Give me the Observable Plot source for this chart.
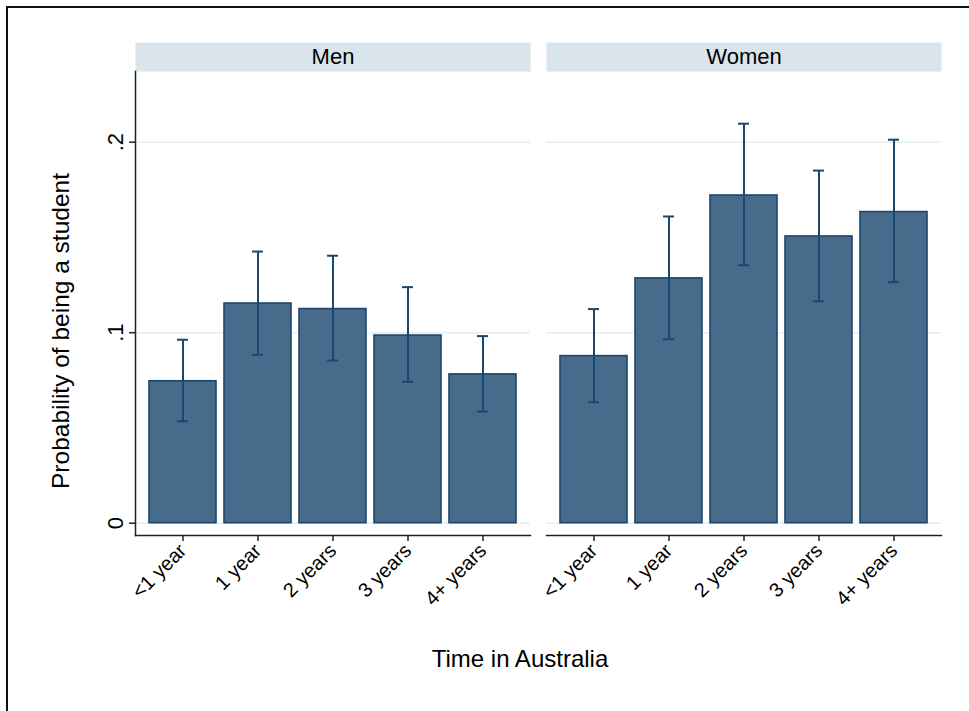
<!DOCTYPE html>
<html>
<head>
<meta charset="utf-8">
<script src="https://cdn.jsdelivr.net/npm/d3@7"></script>
<script src="https://cdn.jsdelivr.net/npm/@observablehq/plot@0.6"></script>
<style>
  html, body { margin: 0; padding: 0; background: #fff; }
  #wrap { position: relative; width: 969px; height: 711px; overflow: hidden; font-family: "Liberation Sans", Arial, sans-serif; }
  #border { position: absolute; left: 6px; top: 6px; width: 2000px; height: 2000px; border-left: 2px solid #111; border-top: 2px solid #111; }
  #chart { position: absolute; left: 0; top: 0; }
  .title { position: absolute; color: #000; white-space: nowrap; text-align: center; }
  #xtitle { left: 320px; width: 400px; top: 647px; font-size: 24px; line-height: 24px; }
  #ytitle { left: -139px; width: 400px; top: 319px; height: 24px; font-size: 24.5px; line-height: 24px; transform: rotate(-90deg); }
</style>
</head>
<body>
<div id="wrap">
  <div id="border"></div>
  <div id="chart"></div>
  <div id="xtitle" class="title">Time in Australia</div>
  <div id="ytitle" class="title">Probability of being a student</div>
</div>
<script>
// Panels and categories
const sexes = ["Men", "Women"];
const times = ["<1 year", "1 year", "2 years", "3 years", "4+ years"];

// Predicted probability of being a student, with 95% confidence bounds
const menProb = [0.0745, 0.1153, 0.1124, 0.0985, 0.0781];
const menLow = [0.0535, 0.0884, 0.0854, 0.0742, 0.0586];
const menHigh = [0.0963, 0.1426, 0.1404, 0.1239, 0.0982];
const womenProb = [0.0877, 0.1285, 0.1720, 0.1505, 0.1633];
const womenLow = [0.0635, 0.0966, 0.1354, 0.1165, 0.1265];
const womenHigh = [0.1124, 0.1610, 0.2097, 0.1851, 0.2013];

// Y axis ticks and their labels
const yTicks = [0, 0.1, 0.2];
const yTickLabels = ["0", ".1", ".2"];

const rows = [];
times.forEach((t, i) => {
  rows.push({sex: sexes[0], time: t, p: menProb[i], lo: menLow[i], hi: menHigh[i]});
});
times.forEach((t, i) => {
  rows.push({sex: sexes[1], time: t, p: womenProb[i], lo: womenLow[i], hi: womenHigh[i]});
});

const barFill = "#486b8b";
const navy = "#1a476f";
const stripFill = "#d9e4eb";
const gridColor = "#e6eef2";

const W = 969, H = 711;
const mTop = 71, mBottom = 176, mLeft = 134, mRight = 27;
const frameH = H - mTop - mBottom;
const stripH = 29;

const chart = Plot.plot({
  width: W,
  height: H,
  marginTop: mTop,
  marginBottom: mBottom,
  marginLeft: mLeft,
  marginRight: mRight,
  style: {fontFamily: "'Liberation Sans', Arial, sans-serif", color: "#000", background: "transparent", overflow: "visible"},
  fx: {domain: sexes, paddingInner: 0.0388, paddingOuter: 0, axis: null},
  x: {domain: times, paddingInner: 0.106, paddingOuter: 0.176, label: null},
  y: {domain: [-0.00646, 0.2371], label: null},
  marks: [
    // panel header strips
    Plot.frame({fill: stripFill, stroke: null, insetTop: -stripH, insetBottom: frameH}),
    Plot.text(sexes, {fx: d => d, text: d => d, frameAnchor: "top", dy: -stripH / 2, lineAnchor: "middle", fontSize: 22, fill: "#000"}),
    Plot.gridY(yTicks, {stroke: gridColor, strokeOpacity: 1, strokeWidth: 1.5}),
    Plot.barY(rows, {fx: "sex", x: "time", y: "p", fill: barFill, stroke: navy, strokeWidth: 1.6}),
    Plot.ruleX(rows, {fx: "sex", x: "time", y1: "lo", y2: "hi", stroke: navy, strokeWidth: 2}),
    Plot.tickY(rows, {fx: "sex", x: "time", y: "lo", stroke: navy, strokeWidth: 2, insetLeft: 28, insetRight: 28}),
    Plot.tickY(rows, {fx: "sex", x: "time", y: "hi", stroke: navy, strokeWidth: 2, insetLeft: 28, insetRight: 28}),
    Plot.frame({anchor: "bottom", stroke: "#222", strokeWidth: 1.5}),
    Plot.frame({anchor: "left", facetAnchor: "left", stroke: "#222", strokeWidth: 1.5}),
    Plot.axisY(yTicks, {
      tickSize: 6, tickPadding: 7, tickRotate: -90, fontSize: 22, stroke: "#222", strokeWidth: 1.5,
      tickFormat: d => yTickLabels[yTicks.indexOf(d)], label: null
    }),
    Plot.axisX({tickSize: 6, tickPadding: 6, tickRotate: -45, fontSize: 20, stroke: "#222", strokeWidth: 1.5, label: null})
  ]
});

document.getElementById("chart").appendChild(chart);
</script>
</body>
</html>
